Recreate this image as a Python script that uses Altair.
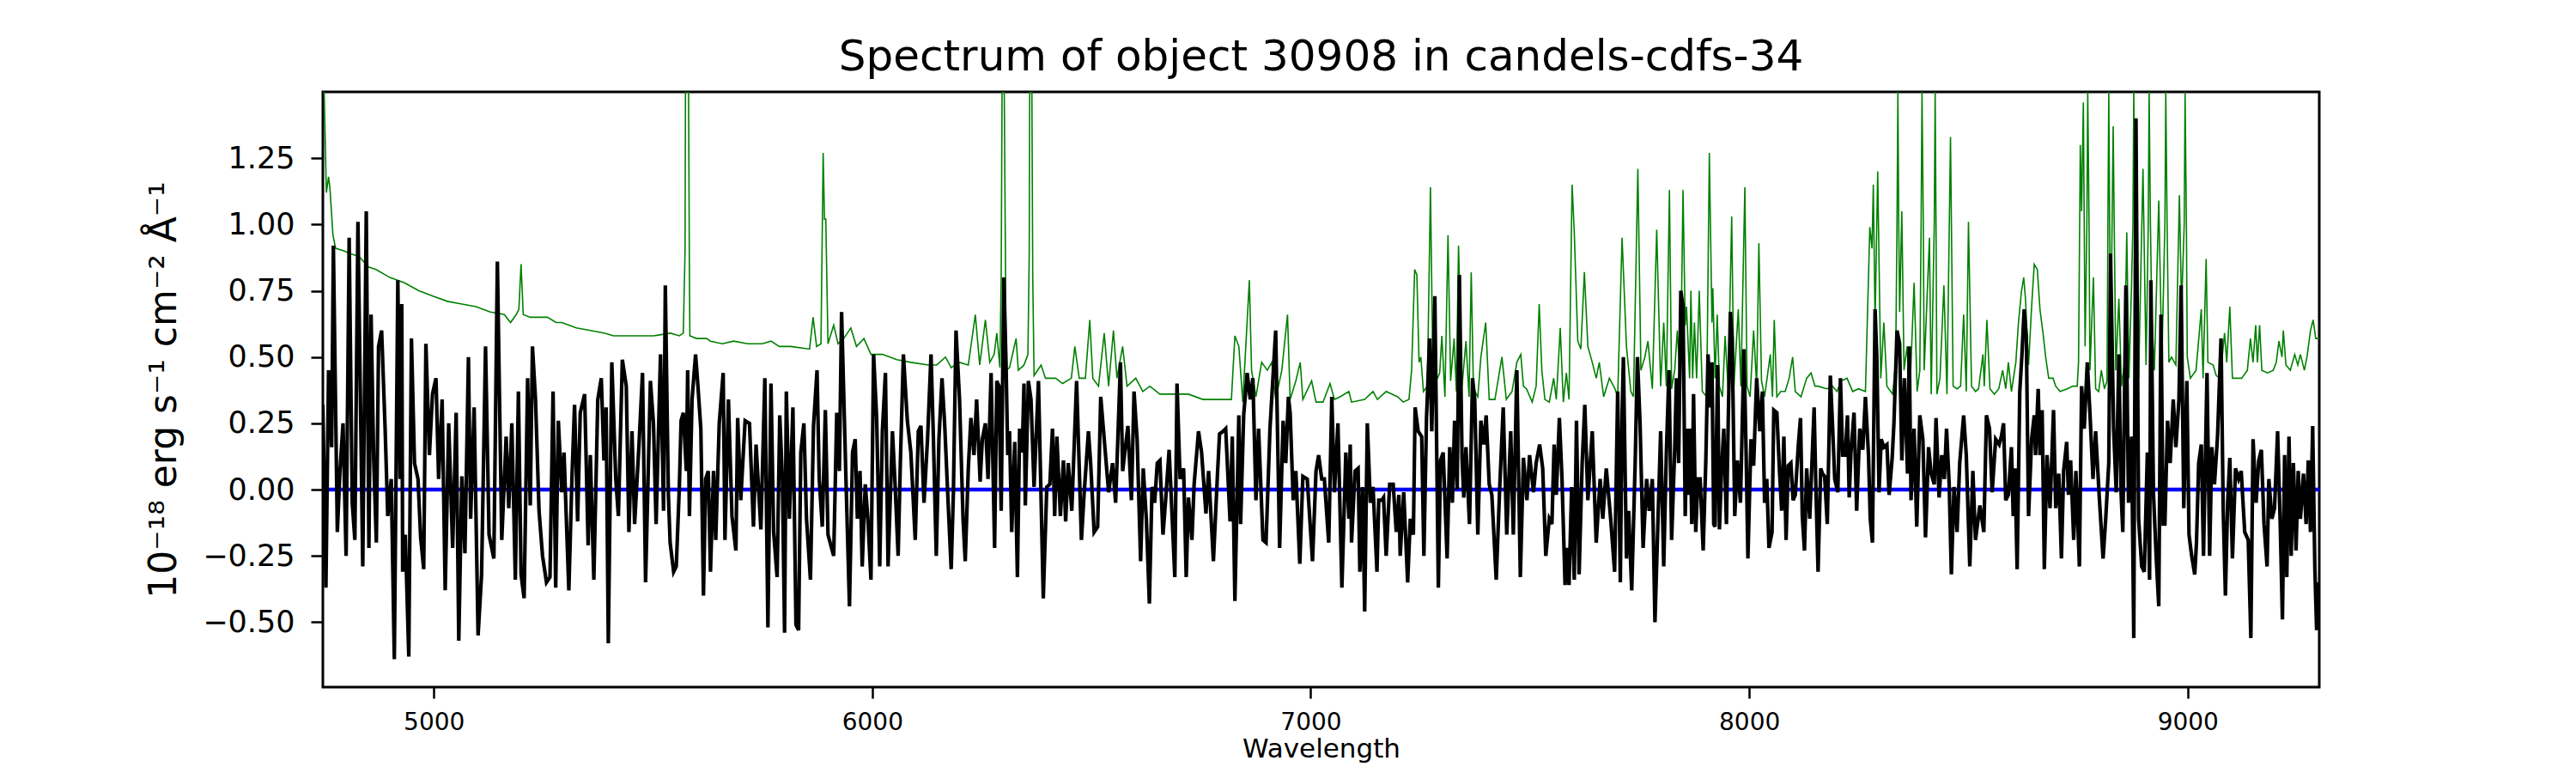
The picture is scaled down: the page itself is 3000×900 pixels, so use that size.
import altair as alt
import pandas as pd

# ---- object spectrum (black): [wavelength, flux] ----
obj_seg1 = [
    [4747, 0.32], [4754, -0.37], [4760, 0.45], [4767, 0.16], [4771, 0.92], [4780, -0.16], [4786, 0.07],
    [4793, 0.25], [4800, -0.25], [4807, 0.95], [4814, -0.05], [4820, -0.19], [4827, 1.01], [4838, -0.29],
    [4846, 1.05], [4852, -0.22], [4857, 0.66], [4863, 0.11], [4869, -0.20], [4874, 0.54], [4881, 0.60],
    [4889, 0.23], [4895, -0.10], [4903, 0.04], [4910, -0.64], [4918, 0.79], [4923, 0.04], [4927, 0.70],
    [4929, -0.31], [4935, -0.17], [4943, -0.63], [4949, 0.57], [4956, 0.10], [4964, 0.04], [4970, -0.18],
    [4977, -0.30], [4982, 0.55], [4990, 0.13], [4997, 0.36], [5005, 0.42], [5011, 0.04], [5019, 0.34],
    [5026, -0.38], [5034, 0.25], [5043, -0.22], [5051, 0.29], [5057, -0.57], [5064, 0.05], [5071, -0.24],
    [5079, 0.50], [5084, -0.11], [5092, 0.31], [5101, -0.55], [5109, -0.32], [5118, 0.54], [5126, -0.17],
    [5137, -0.26], [5145, 0.86], [5155, -0.19], [5165, 0.20], [5171, -0.07], [5178, 0.25], [5186, -0.34],
    [5193, 0.37], [5199, -0.32], [5206, -0.41], [5214, 0.42], [5220, -0.06], [5225, 0.54], [5232, 0.34],
    [5240, -0.08], [5248, -0.25], [5257, -0.35], [5265, -0.33], [5272, 0.37], [5278, -0.37], [5284, 0.26],
    [5292, -0.01], [5297, 0.14], [5308, -0.38], [5315, 0.04], [5321, 0.32], [5328, -0.12], [5334, 0.29],
    [5344, 0.36], [5352, -0.21], [5357, 0.13], [5365, -0.34], [5374, 0.34], [5382, 0.42], [5388, 0.11],
    [5393, 0.31], [5398, -0.58], [5406, 0.48], [5415, 0.04], [5421, -0.10], [5430, 0.49], [5439, 0.39],
    [5445, -0.16], [5452, 0.22], [5458, -0.13], [5468, 0.17], [5476, 0.44], [5483, -0.35], [5494, 0.41],
]
obj_seg2 = [
    [5501, 0.25], [5507, -0.13], [5517, 0.51], [5524, -0.08], [5528, 0.77], [5535, -0.02], [5539, -0.20],
    [5547, -0.31], [5553, -0.29], [5560, 0.01], [5564, 0.26], [5569, 0.29], [5576, 0.07], [5579, 0.45],
    [5583, -0.10], [5589, 0.34], [5597, 0.51], [5602, 0.40], [5609, 0.23], [5615, -0.40], [5620, 0.04],
    [5626, 0.07], [5631, -0.31], [5638, 0.07], [5643, -0.19], [5651, 0.25], [5660, 0.44], [5664, -0.19],
    [5672, 0.34], [5680, -0.10], [5689, -0.23], [5693, 0.27], [5700, -0.04], [5710, 0.26], [5720, 0.25],
    [5729, -0.14], [5735, 0.17], [5746, -0.15], [5755, 0.42], [5762, -0.52], [5769, 0.40], [5775, -0.16],
    [5783, -0.33], [5789, 0.28], [5795, 0.04], [5800, -0.54], [5804, 0.37], [5811, -0.11], [5819, 0.31],
    [5826, -0.51], [5832, -0.53], [5837, 0.14], [5844, 0.25], [5850, -0.11], [5859, -0.34], [5866, 0.24],
    [5874, 0.45], [5879, 0.04], [5886, -0.14], [5893, 0.30], [5899, -0.17], [5912, -0.25], [5919, 0.29],
    [5925, 0.07], [5930, 0.67], [5940, 0.04], [5948, -0.44], [5955, 0.14], [5961, 0.19], [5966, -0.11],
    [5972, 0.07], [5977, -0.29], [5984, 0.02], [5990, -0.11], [5997, -0.34], [6003, 0.51], [6010, 0.27],
    [6017, -0.29], [6023, 0.22], [6030, 0.44], [6036, -0.29], [6046, 0.22], [6052, 0.02], [6059, -0.25],
    [6064, 0.10], [6071, 0.51], [6080, 0.26], [6088, 0.14], [6098, -0.19], [6105, 0.22], [6111, 0.24],
    [6118, -0.05], [6126, 0.19], [6134, 0.51], [6139, 0.22], [6146, -0.25], [6152, 0.19], [6159, 0.42],
    [6165, 0.25], [6173, -0.05], [6180, -0.30], [6185, -0.01], [6191, 0.60], [6199, 0.34], [6207, -0.11],
    [6212, -0.27], [6219, 0.08], [6225, 0.27], [6232, 0.13], [6238, 0.34], [6246, 0.03], [6251, 0.19],
    [6258, 0.25], [6264, 0.04], [6271, 0.44], [6279, -0.22], [6284, 0.41],
]
obj_seg3 = [
    [6289, 0.39], [6294, -0.08], [6300, 0.80], [6305, 0.48], [6309, 0.13], [6313, 0.22], [6318, -0.16],
    [6325, 0.18], [6331, -0.33], [6336, 0.23], [6342, 0.14], [6346, 0.40], [6349, -0.06], [6356, 0.41],
    [6362, 0.34], [6369, 0.01], [6379, 0.41], [6390, -0.41], [6398, 0.01], [6405, 0.02], [6411, 0.23],
    [6416, -0.10], [6421, 0.20], [6429, -0.10], [6436, 0.11], [6441, -0.12], [6447, 0.10], [6455, -0.08],
    [6466, 0.41], [6477, -0.19], [6483, -0.02], [6493, 0.22], [6498, 0.10], [6506, -0.16], [6514, -0.14],
    [6521, 0.35], [6529, 0.19], [6539, -0.01], [6548, 0.10], [6555, -0.05], [6566, 0.48], [6571, 0.07],
    [6583, 0.24], [6591, -0.04], [6597, 0.37], [6604, 0.19], [6612, -0.27], [6618, 0.08], [6625, -0.11],
    [6632, -0.43], [6638, 0.01], [6644, -0.05], [6650, 0.10], [6656, 0.11], [6663, -0.17], [6669, -0.04],
    [6677, 0.15], [6690, -0.33], [6695, 0.40], [6702, 0.04], [6710, 0.08], [6716, -0.33], [6721, -0.03],
    [6729, -0.19], [6734, 0.02], [6744, 0.22], [6751, 0.14], [6761, -0.09], [6767, 0.07], [6778, -0.27],
    [6787, 0.05], [6792, 0.21], [6800, 0.22], [6806, 0.23], [6816, -0.12], [6821, 0.20], [6827, -0.42],
    [6836, 0.28], [6840, -0.13], [6847, 0.28], [6855, 0.44], [6862, 0.34], [6868, 0.42], [6875, -0.04],
    [6881, 0.23], [6891, -0.19], [6898, -0.20], [6907, 0.23], [6920, 0.60], [6929, -0.22], [6937, 0.26],
    [6943, 0.10], [6949, 0.35], [6953, 0.29], [6960, -0.04], [6966, 0.07], [6975, -0.28], [6982, 0.05],
    [6992, 0.04], [7004, -0.27], [7012, 0.07], [7018, 0.13], [7025, 0.04], [7031, 0.04], [7041, -0.20],
    [7048, 0.35],
]
obj_seg4 = [
    [7054, -0.01], [7062, 0.25], [7071, -0.37], [7080, 0.14], [7087, -0.11], [7090, 0.17], [7093, -0.20],
    [7101, 0.07], [7108, 0.08], [7112, -0.31], [7118, 0.01], [7123, -0.46], [7129, 0.25], [7136, -0.05],
    [7142, 0.01], [7151, -0.31], [7155, -0.04], [7162, -0.04], [7166, -0.03], [7172, -0.25], [7180, 0.02],
    [7188, 0.02], [7195, -0.16], [7201, -0.02], [7204, -0.25], [7212, -0.01], [7221, -0.35], [7227, -0.11],
    [7234, -0.17], [7238, 0.31], [7245, 0.22], [7253, 0.20], [7258, -0.25], [7264, 0.27], [7271, 0.57],
    [7276, 0.22], [7283, 0.73], [7291, -0.37], [7296, 0.11], [7302, 0.14], [7311, -0.26], [7317, 0.16],
    [7323, -0.05], [7328, 0.26], [7334, 0.00], [7339, 0.81], [7345, 0.12], [7349, -0.03], [7354, 0.16],
    [7362, -0.13], [7369, 0.42], [7374, 0.34], [7381, -0.17], [7388, 0.26], [7395, 0.17], [7400, 0.28],
    [7407, 0.02], [7413, -0.02], [7423, -0.34], [7431, 0.01], [7439, 0.31], [7447, -0.17], [7456, 0.22],
    [7462, -0.17], [7470, 0.45], [7478, -0.33], [7485, 0.12], [7493, -0.04], [7499, 0.13], [7508, -0.01],
    [7514, 0.10], [7522, 0.17], [7529, 0.08], [7536, -0.25], [7544, -0.11], [7550, -0.13], [7555, 0.17],
    [7560, -0.02], [7567, 0.27], [7573, 0.04], [7580, -0.36], [7584, -0.22], [7589, -0.36], [7595, 0.01],
    [7601, -0.34], [7606, 0.26], [7612, -0.32], [7619, 0.10], [7625, 0.32], [7632, -0.04], [7642, 0.22],
    [7651, -0.20], [7660, 0.04], [7666, -0.11], [7674, 0.08], [7684, -0.11], [7693, -0.31], [7700, 0.37],
    [7706, -0.35], [7710, 0.28], [7713, 0.50], [7720, -0.26], [7725, -0.08], [7732, -0.38], [7740, 0.11],
    [7745, 0.50], [7751, 0.25], [7758, -0.22], [7766, 0.04], [7772, -0.08], [7779, 0.04], [7785, -0.50],
    [7792, -0.11], [7798, 0.22], [7805, -0.29], [7811, 0.14],
]
obj_seg5 = [
    [7817, 0.45], [7823, -0.19], [7830, 0.15], [7834, 0.42], [7839, 0.10], [7844, 0.75], [7849, 0.69],
    [7854, -0.10], [7858, 0.23], [7862, -0.02], [7865, 0.23], [7869, -0.13], [7873, 0.36], [7878, -0.16],
    [7883, 0.04], [7888, 0.04], [7895, -0.23], [7901, 0.11], [7906, 0.51], [7911, 0.31], [7915, 0.48],
    [7919, -0.13], [7922, -0.14], [7928, 0.47], [7932, -0.15], [7937, 0.08], [7942, 0.23], [7948, -0.13],
    [7952, 0.25], [7957, 0.67], [7961, 0.57], [7967, -0.10], [7973, 0.11], [7980, -0.05], [7988, 0.53],
    [7993, 0.13], [7997, -0.26], [8004, 0.19], [8010, 0.09], [8017, 0.42], [8024, 0.22], [8030, 0.37],
    [8035, -0.05], [8040, 0.04], [8045, -0.22], [8052, -0.16], [8056, 0.30], [8063, 0.29], [8069, 0.07],
    [8074, -0.08], [8079, 0.20], [8084, -0.19], [8089, 0.09], [8095, 0.10], [8100, -0.04], [8105, -0.02],
    [8112, 0.17], [8117, 0.27], [8121, -0.10], [8126, -0.23], [8131, 0.08], [8138, -0.11], [8148, 0.31],
    [8152, 0.01], [8157, -0.31], [8163, 0.08], [8167, 0.06], [8172, 0.05], [8178, -0.13], [8185, 0.43],
    [8190, 0.24], [8195, 0.04], [8202, -0.01], [8208, 0.42], [8213, 0.13], [8219, 0.13], [8224, 0.28],
    [8228, -0.03], [8232, 0.14], [8239, 0.29], [8245, -0.08], [8252, 0.23], [8259, 0.15], [8265, 0.35],
    [8272, 0.13], [8276, -0.11], [8281, -0.20], [8287, 0.68], [8291, 0.50], [8296, -0.01], [8301, 0.19],
    [8307, 0.16], [8314, 0.17], [8319, -0.02], [8326, 0.12], [8330, 0.25], [8337, 0.60], [8343, 0.55],
    [8348, 0.11], [8354, 0.42], [8361, 0.06], [8365, 0.54], [8369, -0.04], [8376, 0.23], [8382, -0.14],
    [8389, 0.28], [8396, 0.19], [8402, -0.18], [8409, 0.16], [8415, 0.06], [8422, 0.02], [8426, 0.27],
    [8433, -0.03], [8439, 0.13], [8445, 0.04], [8450, 0.23], [8456, 0.02], [8461, -0.32], [8467, 0.01],
    [8474, -0.16], [8480, 0.10], [8489, 0.28], [8495, 0.13], [8503, -0.29], [8510, 0.07], [8516, -0.19],
    [8526, -0.06], [8535, -0.16], [8541, 0.28], [8548, 0.23], [8554, -0.01], [8562, 0.19], [8570, 0.17],
    [8575, 0.20],
]
obj_seg6 = [
    [8580, 0.25], [8585, -0.04], [8591, -0.02], [8598, 0.16], [8602, -0.10], [8606, 0.08], [8611, -0.30],
    [8617, 0.37], [8622, 0.51], [8627, 0.68], [8632, 0.57], [8637, -0.10], [8644, 0.19], [8650, 0.28],
    [8653, 0.13], [8659, 0.38], [8663, 0.13], [8668, 0.30], [8673, -0.30], [8679, 0.13], [8686, -0.07],
    [8694, 0.30], [8699, -0.07], [8706, 0.06], [8712, -0.26], [8717, 0.07], [8724, 0.18], [8728, -0.02],
    [8733, 0.11], [8740, -0.19], [8745, 0.07], [8753, -0.29], [8758, 0.39], [8764, 0.23], [8771, 0.48],
    [8777, 0.29], [8784, 0.04], [8790, 0.22], [8798, -0.02], [8807, -0.26], [8813, -0.11], [8820, 0.10],
    [8824, 0.89], [8831, 0.23], [8837, -0.01], [8843, 0.51], [8848, -0.01], [8852, -0.16], [8859, 0.77],
    [8865, -0.05], [8872, 0.20], [8877, -0.56], [8882, 1.40], [8888, -0.11], [8895, -0.29], [8901, -0.31],
    [8908, 0.14], [8913, -0.34], [8916, 0.79], [8922, -0.02], [8928, -0.25], [8934, -0.44], [8939, 0.66],
    [8944, -0.13], [8948, -0.13], [8954, 0.26], [8960, 0.10], [8967, 0.34], [8973, 0.16], [8980, 0.34],
    [8985, 0.77], [8991, -0.07], [8998, 0.41], [9003, -0.17], [9009, -0.25], [9016, -0.32], [9020, -0.20],
    [9025, 0.10], [9031, 0.17], [9036, -0.25], [9044, 0.44], [9050, -0.25], [9055, 0.16], [9061, 0.02],
    [9068, 0.20], [9076, 0.57], [9081, -0.08], [9086, -0.40], [9091, -0.05], [9096, 0.12], [9102, -0.26],
    [9109, 0.08], [9116, 0.04], [9122, 0.07], [9130, -0.16], [9138, -0.19], [9144, -0.56], [9149, 0.19],
    [9156, -0.05], [9162, 0.11], [9168, 0.15], [9174, -0.13], [9181, -0.29], [9185, 0.04], [9192, -0.11],
    [9198, -0.07], [9205, 0.22], [9211, -0.13], [9216, -0.49], [9221, 0.13], [9226, -0.33], [9231, 0.20],
    [9236, -0.25], [9241, 0.10], [9247, -0.23], [9252, 0.07], [9257, -0.11], [9264, 0.06], [9270, -0.13],
    [9275, 0.11], [9280, -0.16], [9285, 0.24], [9290, -0.30], [9294, -0.53], [9298, -0.35],
]

# ---- sky / noise spectrum (green): [wavelength, flux] ----
sky_seg1 = [
    [4748, 1.70], [4750, 1.50], [4755, 1.12], [4760, 1.18], [4763, 1.14], [4770, 0.96], [4776, 0.91],
    [4796, 0.90], [4809, 0.89], [4829, 0.88], [4851, 0.84], [4868, 0.83], [4900, 0.80], [4933, 0.78],
    [4966, 0.75], [4998, 0.73], [5031, 0.71], [5064, 0.70], [5096, 0.69], [5129, 0.67], [5161, 0.66],
    [5175, 0.63], [5188, 0.66], [5194, 0.68], [5199, 0.85], [5204, 0.66], [5220, 0.65], [5240, 0.65],
    [5259, 0.65], [5279, 0.63], [5292, 0.63], [5325, 0.61], [5357, 0.60], [5390, 0.59], [5410, 0.58],
    [5455, 0.58], [5488, 0.58],
]
sky_seg2 = [
    [5501, 0.58], [5540, 0.59], [5560, 0.58], [5569, 0.59], [5573, 0.90], [5574, 1.70], [5581, 1.70],
    [5583, 0.80], [5584, 0.58], [5599, 0.57], [5622, 0.57], [5631, 0.56], [5658, 0.55], [5684, 0.56],
    [5716, 0.55], [5749, 0.55], [5769, 0.56], [5788, 0.54], [5814, 0.54], [5857, 0.53], [5865, 0.65],
    [5873, 0.54], [5883, 0.55], [5888, 1.27], [5891, 1.02], [5894, 1.02], [5899, 0.55], [5912, 0.62],
    [5922, 0.55], [5935, 0.57], [5951, 0.61], [5964, 0.54], [5981, 0.57], [5997, 0.51], [6023, 0.51],
    [6056, 0.49], [6088, 0.48], [6128, 0.47], [6147, 0.47], [6167, 0.50], [6180, 0.46], [6199, 0.48],
    [6219, 0.47], [6235, 0.66], [6245, 0.47], [6258, 0.64], [6268, 0.48], [6278, 0.51],
]
sky_seg3 = [
    [6284, 0.59], [6291, 0.46], [6294, 0.80], [6296, 1.70], [6301, 1.70], [6304, 0.80], [6305, 0.45],
    [6313, 0.46], [6328, 0.57], [6333, 0.45], [6346, 0.47], [6355, 0.51], [6358, 0.90], [6359, 1.70],
    [6364, 1.70], [6366, 0.80], [6369, 0.43], [6385, 0.47], [6395, 0.42], [6418, 0.42], [6434, 0.40],
    [6454, 0.42], [6462, 0.54], [6472, 0.42], [6486, 0.42], [6496, 0.64], [6503, 0.42], [6516, 0.39],
    [6529, 0.59], [6539, 0.39], [6550, 0.60], [6558, 0.42], [6571, 0.54], [6581, 0.39], [6601, 0.42],
    [6617, 0.37], [6633, 0.39], [6656, 0.36], [6689, 0.36], [6721, 0.36], [6754, 0.34], [6787, 0.34],
    [6819, 0.34], [6827, 0.58], [6836, 0.54], [6845, 0.33], [6860, 0.79], [6865, 0.45], [6875, 0.35],
    [6888, 0.48], [6901, 0.45], [6911, 0.48], [6920, 0.34], [6934, 0.45], [6947, 0.66], [6953, 0.34],
    [6966, 0.41], [6976, 0.48], [6982, 0.34], [7002, 0.41], [7012, 0.33], [7028, 0.33], [7044, 0.40],
]
sky_seg4 = [
    [7054, 0.34], [7067, 0.35], [7087, 0.37], [7093, 0.33], [7123, 0.34], [7142, 0.37], [7152, 0.34],
    [7172, 0.37], [7198, 0.35], [7211, 0.33], [7224, 0.34], [7230, 0.45], [7237, 0.83], [7242, 0.81],
    [7247, 0.48], [7251, 0.50], [7257, 0.37], [7266, 0.39], [7273, 1.14], [7279, 0.39], [7289, 0.42],
    [7294, 0.44], [7299, 0.58], [7306, 0.35], [7313, 0.96], [7319, 0.41], [7327, 0.57], [7332, 0.37],
    [7337, 0.92], [7345, 0.39], [7354, 0.56], [7361, 0.35], [7366, 0.82], [7371, 0.38], [7381, 0.35],
    [7388, 0.50], [7399, 0.63], [7407, 0.34], [7420, 0.34], [7428, 0.42], [7436, 0.50], [7446, 0.34],
    [7459, 0.37], [7470, 0.48], [7479, 0.51], [7485, 0.39], [7492, 0.38], [7505, 0.33], [7514, 0.39],
    [7521, 0.70], [7527, 0.45], [7534, 0.34], [7544, 0.33], [7554, 0.42], [7560, 0.34], [7569, 0.61],
    [7576, 0.33], [7583, 0.44], [7589, 0.34], [7596, 1.15], [7601, 0.97], [7609, 0.56], [7616, 0.53],
    [7624, 0.82], [7632, 0.54], [7642, 0.48], [7651, 0.42], [7658, 0.48], [7668, 0.35], [7681, 0.42],
    [7694, 0.38], [7700, 0.35], [7710, 0.95], [7720, 0.54], [7730, 0.37], [7736, 0.35], [7746, 1.21],
    [7753, 0.45], [7762, 0.50], [7769, 0.56], [7779, 0.38], [7789, 0.98], [7798, 0.39], [7805, 0.63],
    [7811, 0.39],
]
sky_seg5 = [
    [7818, 1.13], [7823, 0.38], [7830, 0.45], [7836, 0.60], [7843, 0.39], [7849, 1.13], [7854, 0.62],
    [7857, 0.69], [7864, 0.42], [7867, 0.75], [7871, 0.42], [7875, 0.63], [7880, 0.42], [7886, 0.75],
    [7893, 0.37], [7903, 0.35], [7909, 1.27], [7915, 0.63], [7917, 0.76], [7922, 0.42], [7927, 0.66],
    [7932, 0.39], [7939, 0.35], [7945, 0.58], [7952, 0.38], [7960, 1.03], [7965, 0.39], [7975, 0.68],
    [7981, 0.39], [7990, 1.14], [7995, 0.39], [8002, 0.35], [8010, 0.60], [8017, 0.39], [8022, 0.93],
    [8028, 0.41], [8035, 0.35], [8048, 0.51], [8053, 0.35], [8057, 0.64], [8063, 0.35], [8072, 0.37],
    [8082, 0.37], [8091, 0.42], [8099, 0.50], [8105, 0.37], [8118, 0.35], [8131, 0.42], [8141, 0.44],
    [8150, 0.39], [8157, 0.39], [8177, 0.38], [8190, 0.39], [8200, 0.37], [8210, 0.41], [8223, 0.42],
    [8236, 0.37], [8249, 0.38], [8265, 0.37], [8275, 0.99], [8280, 0.91], [8283, 1.15], [8287, 0.63],
    [8293, 1.20], [8300, 0.42], [8307, 0.63], [8314, 0.39], [8327, 0.36], [8334, 0.48], [8337, 1.00],
    [8339, 1.70], [8341, 1.00], [8343, 0.67], [8348, 1.05], [8353, 0.45], [8360, 0.54], [8366, 0.35],
    [8376, 0.78], [8383, 0.37], [8389, 0.45], [8392, 1.00], [8394, 1.70], [8397, 1.00], [8399, 0.45],
    [8411, 0.95], [8415, 0.36], [8422, 1.00], [8424, 1.70], [8426, 1.00], [8428, 0.36], [8435, 0.42],
    [8444, 0.77], [8451, 0.36], [8459, 1.33], [8465, 0.39], [8474, 0.38], [8482, 0.39], [8489, 0.66],
    [8495, 0.37], [8500, 1.01], [8507, 0.39], [8516, 0.37], [8523, 0.38], [8533, 0.51], [8536, 0.39],
    [8542, 0.64], [8549, 0.38], [8559, 0.36], [8569, 0.38],
]
sky_seg6 = [
    [8578, 0.45], [8585, 0.38], [8591, 0.48], [8598, 0.37], [8608, 0.48], [8614, 0.63], [8621, 0.75],
    [8626, 0.80], [8630, 0.72], [8637, 0.47], [8644, 0.69], [8650, 0.85], [8657, 0.83], [8663, 0.68],
    [8670, 0.59], [8676, 0.50], [8683, 0.42], [8693, 0.42], [8699, 0.39], [8709, 0.37], [8725, 0.38],
    [8738, 0.39], [8748, 0.39], [8751, 0.48], [8755, 1.30], [8758, 1.05], [8762, 1.46], [8766, 0.54],
    [8770, 1.00], [8772, 1.70], [8775, 1.00], [8777, 0.45], [8785, 0.80], [8790, 0.38], [8797, 0.37],
    [8803, 0.45], [8810, 0.38], [8816, 0.41], [8818, 1.00], [8820, 1.70], [8822, 1.00], [8824, 0.48],
    [8830, 1.37], [8836, 0.45], [8843, 0.72], [8849, 0.39], [8856, 0.48], [8861, 0.97], [8866, 0.42],
    [8872, 0.78], [8875, 1.00], [8877, 1.70], [8880, 1.00], [8882, 0.57], [8888, 0.42], [8898, 1.21],
    [8905, 0.47], [8910, 1.00], [8912, 1.70], [8915, 1.00], [8918, 0.66], [8924, 0.45], [8934, 1.09],
    [8941, 0.48], [8948, 1.00], [8950, 1.70], [8953, 1.00], [8957, 0.48], [8963, 0.50], [8973, 0.47],
    [8981, 1.11], [8986, 0.69], [8992, 1.00], [8994, 1.70], [8997, 1.00], [8999, 0.50], [9006, 0.42],
    [9019, 0.45], [9031, 0.68], [9035, 0.42], [9042, 0.87], [9046, 0.48], [9058, 0.47], [9065, 0.43],
    [9074, 0.42], [9084, 0.59], [9089, 0.48], [9096, 0.69], [9102, 0.42], [9110, 0.42], [9123, 0.42],
    [9136, 0.45], [9143, 0.57], [9149, 0.48], [9155, 0.62], [9159, 0.48], [9164, 0.62], [9169, 0.45],
    [9182, 0.44], [9195, 0.45], [9202, 0.48], [9208, 0.56], [9215, 0.50], [9218, 0.60], [9224, 0.47],
    [9234, 0.45], [9244, 0.51], [9251, 0.47], [9257, 0.51], [9266, 0.45], [9272, 0.50], [9280, 0.60],
    [9286, 0.64], [9292, 0.57], [9300, 0.57],
]

zero_level = [0.0]
x_ticks = [5000, 6000, 7000, 8000, 9000]
y_ticks = [-0.5, -0.25, 0.0, 0.25, 0.5, 0.75, 1.0, 1.25]
x_domain = [4747, 9300]
y_domain = [-0.745, 1.5]

title_text = "Spectrum of object 30908 in candels-cdfs-34"
x_title = "Wavelength"
y_title = "10⁻¹⁸ erg s⁻¹ cm⁻² Å⁻¹"

FONT = "DejaVu Sans"

obj_pts = obj_seg1 + obj_seg2 + obj_seg3 + obj_seg4 + obj_seg5 + obj_seg6
sky_pts = sky_seg1 + sky_seg2 + sky_seg3 + sky_seg4 + sky_seg5 + sky_seg6
obj = pd.DataFrame(obj_pts, columns=["wave", "flux"])
sky = pd.DataFrame(sky_pts, columns=["wave", "flux"])
zero = pd.DataFrame({"flux": zero_level})

x_enc = alt.X(
    "wave:Q",
    scale=alt.Scale(domain=x_domain, nice=False, zero=False, clamp=True),
    axis=alt.Axis(
        values=x_ticks, format="d", title=x_title, grid=False, domain=False,
        labelFontSize=28, titleFontSize=31, labelFont=FONT, titleFont=FONT,
        titleFontWeight="normal", tickSize=13, tickWidth=2.5, tickColor="black",
        labelColor="black", titleColor="black", labelPadding=14, titlePadding=2,
    ),
)
y_enc = alt.Y(
    "flux:Q",
    scale=alt.Scale(domain=y_domain, nice=False, zero=False, clamp=True),
    axis=alt.Axis(
        values=y_ticks, format=".2f", title=y_title, grid=False, domain=False,
        labelFontSize=35, titleFontSize=44, labelFont=FONT, titleFont=FONT,
        titleFontWeight="normal", tickSize=14, tickWidth=2.5, tickColor="black",
        labelColor="black", titleColor="black", labelPadding=19, titlePadding=22,
    ),
)

green = alt.Chart(sky).mark_line(color="green", strokeWidth=1.6, clip=True).encode(x=x_enc, y=y_enc)
blue = alt.Chart(zero).mark_rule(color="blue", strokeWidth=4.5).encode(y=y_enc)
black = alt.Chart(obj).mark_line(color="black", strokeWidth=4.2, clip=True).encode(x=x_enc, y=y_enc)

chart = (
    alt.layer(green, blue, black)
    .properties(
        width=2325,
        height=693,
        padding={"left": 161, "top": 34, "right": 20, "bottom": 10},
        title=alt.TitleParams(
            text=title_text, fontSize=50, font=FONT, fontWeight="normal",
            anchor="middle", offset=-35, baseline="bottom", color="black",
        ),
        background="white",
    )
    .configure_view(stroke="black", strokeWidth=3)
)

chart.save("out.html", embed_options={"renderer": "svg", "actions": False})
